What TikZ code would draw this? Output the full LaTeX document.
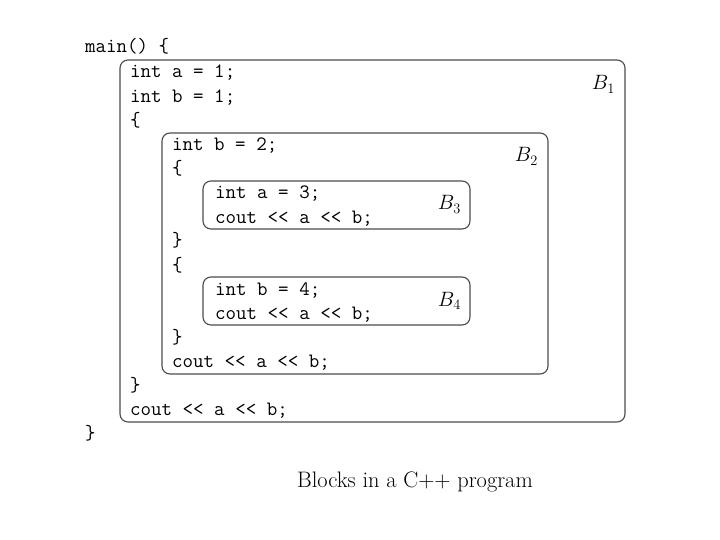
\documentclass[tikz,border=0pt]{standalone}
\usepackage{fontspec}
\begin{document}
\begin{tikzpicture}[x=1pt,y=-1pt,
  code/.style={anchor=base west,inner sep=0pt,font=\fontsize{20.4}{24}\selectfont\ttfamily},
  blk/.style={draw=black!70,line width=1.1pt,rounded corners=8pt},
  lbl/.style={anchor=base east,inner sep=0pt,font=\fontsize{20}{24}\selectfont},
  captext/.style={anchor=base,inner sep=0pt,font=\fontsize{22.4}{26}\selectfont}]
\useasboundingbox (0,0) rectangle (720,540);
\fill[white] (0,0) rectangle (720,540);
% blocks
\draw[blk] (120,60) rectangle (625,422);
\draw[blk] (162,133) rectangle (548,374);
\draw[blk] (203,181) rectangle (470,229);
\draw[blk] (203,277) rectangle (470,325);
\node[lbl] (b1) at (615,90) {$B_1$};
\node[lbl] (b2) at (538,162) {$B_2$};
\node[lbl] (b3) at (461,210) {$B_3$};
\node[lbl] (b4) at (461,306) {$B_4$};
% code
\node[code] (l1) at (85,53) {main() \{};
\node[code] (l2) at (130,78) {int a = 1;};
\node[code] (l3) at (130,103) {int b = 1;};
\node[code] (l4) at (130,127) {\{};
\node[code] (l5) at (172,151) {int b = 2;};
\node[code] (l6) at (172,175) {\{};
\node[code] (l7) at (215,199) {int a = 3;};
\node[code] (l8) at (215,223) {cout << a << b;};
\node[code] (l9) at (172,247) {\}};
\node[code] (l10) at (172,271) {\{};
\node[code] (l11) at (215,295) {int b = 4;};
\node[code] (l12) at (215,319) {cout << a << b;};
\node[code] (l13) at (172,343) {\}};
\node[code] (l14) at (172,367) {cout << a << b;};
\node[code] (l15) at (130,391) {\}};
\node[code] (l16) at (130,415) {cout << a << b;};
\node[code] (l17) at (85,439) {\}};
% caption
\node[captext] (c) at (415,487) {Blocks in a C++ program};
\end{tikzpicture}
\end{document}
